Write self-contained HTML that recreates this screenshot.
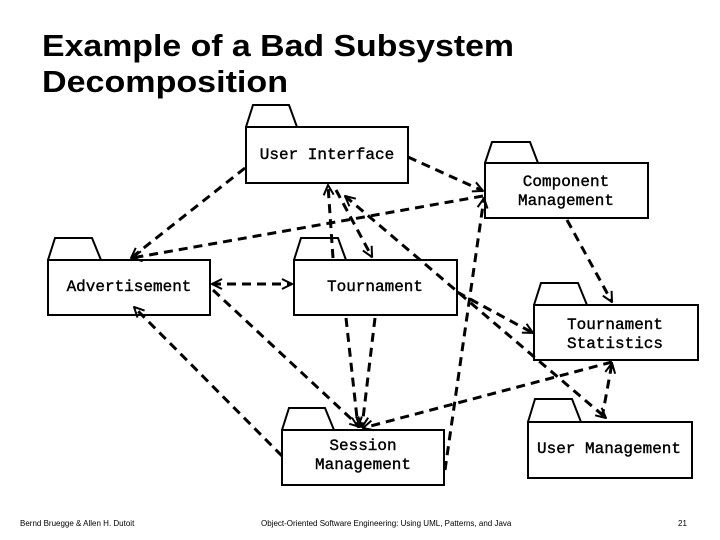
<!DOCTYPE html>
<html><head><meta charset="utf-8"><style>
html,body{margin:0;padding:0;background:#fff;width:720px;height:540px;overflow:hidden}
</style></head><body>
<svg width="720" height="540" viewBox="0 0 720 540" xmlns="http://www.w3.org/2000/svg">
<defs>
<marker id="a" viewBox="0 0 12 12" refX="11" refY="6" markerWidth="12" markerHeight="12" markerUnits="userSpaceOnUse" orient="auto-start-reverse">
<path d="M1,1 L11,6 L1,11" fill="none" stroke="#000" stroke-width="2"/>
</marker>
</defs>
<text x="42" y="56" font-family="Liberation Sans, sans-serif" font-weight="bold" font-size="31" textLength="472" lengthAdjust="spacingAndGlyphs">Example of a Bad Subsystem</text>
<text x="42" y="92" font-family="Liberation Sans, sans-serif" font-weight="bold" font-size="31" textLength="246" lengthAdjust="spacingAndGlyphs">Decomposition</text>

<g fill="#fff" stroke="#000" stroke-width="2">
<path d="M246,127 L253,105 L289,105 L297,127"/><rect x="246" y="127" width="162" height="56"/>
<path d="M485,163 L492,142 L530,142 L538,163"/><rect x="485" y="163" width="163" height="55"/>
<path d="M48,260 L55,238 L92,238 L101,260"/><rect x="48" y="260" width="162" height="55"/>
<path d="M294,260 L301,238 L338,238 L346,260"/><rect x="294" y="260" width="163" height="55"/>
<path d="M534,305 L541,283 L578,283 L587,305"/><rect x="534" y="305" width="164" height="55"/>
<path d="M282,430 L289,408 L325,408 L334,430"/><rect x="282" y="430" width="162" height="55"/>
<path d="M528,422 L535,399 L572,399 L581,422"/><rect x="528" y="422" width="164" height="56"/>
</g>

<g font-family="Liberation Mono, monospace" font-size="16" text-anchor="middle" fill="#000" stroke="#000" stroke-width="0.4">
<text x="327" y="159">User Interface</text>
<text x="566" y="186">Component</text><text x="566" y="205">Management</text>
<text x="129" y="291">Advertisement</text>
<text x="375" y="291">Tournament</text>
<text x="615" y="329">Tournament</text><text x="615" y="348">Statistics</text>
<text x="363" y="450">Session</text><text x="363" y="469">Management</text>
<text x="609" y="453">User Management</text>
</g>

<g fill="none" stroke="#000" stroke-width="3" stroke-dasharray="9,6">
<line x1="408" y1="157" x2="483" y2="191" marker-end="url(#a)"/>
<line x1="245" y1="168" x2="131" y2="258" marker-end="url(#a)"/>
<line x1="483" y1="196" x2="132" y2="258" marker-end="url(#a)"/>
<line x1="333" y1="258" x2="328" y2="185" marker-end="url(#a)"/>
<line x1="336" y1="190" x2="372" y2="257" marker-end="url(#a)"/>
<line x1="345" y1="196" x2="606" y2="418" marker-start="url(#a)" marker-end="url(#a)"/>
<line x1="457" y1="292" x2="533" y2="333" marker-end="url(#a)"/>
<line x1="212" y1="284" x2="292" y2="284" marker-start="url(#a)" marker-end="url(#a)"/>
<line x1="213" y1="290" x2="360" y2="427" marker-end="url(#a)"/>
<line x1="282" y1="456" x2="134" y2="307" marker-end="url(#a)"/>
<line x1="346" y1="318" x2="358" y2="427" marker-end="url(#a)"/>
<line x1="375" y1="318" x2="362" y2="427" marker-end="url(#a)"/>
<line x1="612" y1="362" x2="363" y2="428" marker-end="url(#a)"/>
<line x1="602" y1="418" x2="612" y2="363" marker-end="url(#a)"/>
<line x1="567" y1="220" x2="612" y2="302" marker-end="url(#a)"/>
<line x1="445" y1="470" x2="484" y2="198" marker-end="url(#a)"/>
</g>

<g font-family="Liberation Sans, sans-serif" font-size="8" fill="#000">
<text x="20" y="526">Bernd Bruegge &amp; Allen H. Dutoit</text>
<text x="261" y="526">Object-Oriented Software Engineering: Using UML, Patterns, and Java</text>
<text x="678" y="526">21</text>
</g>
</svg>
</body></html>
